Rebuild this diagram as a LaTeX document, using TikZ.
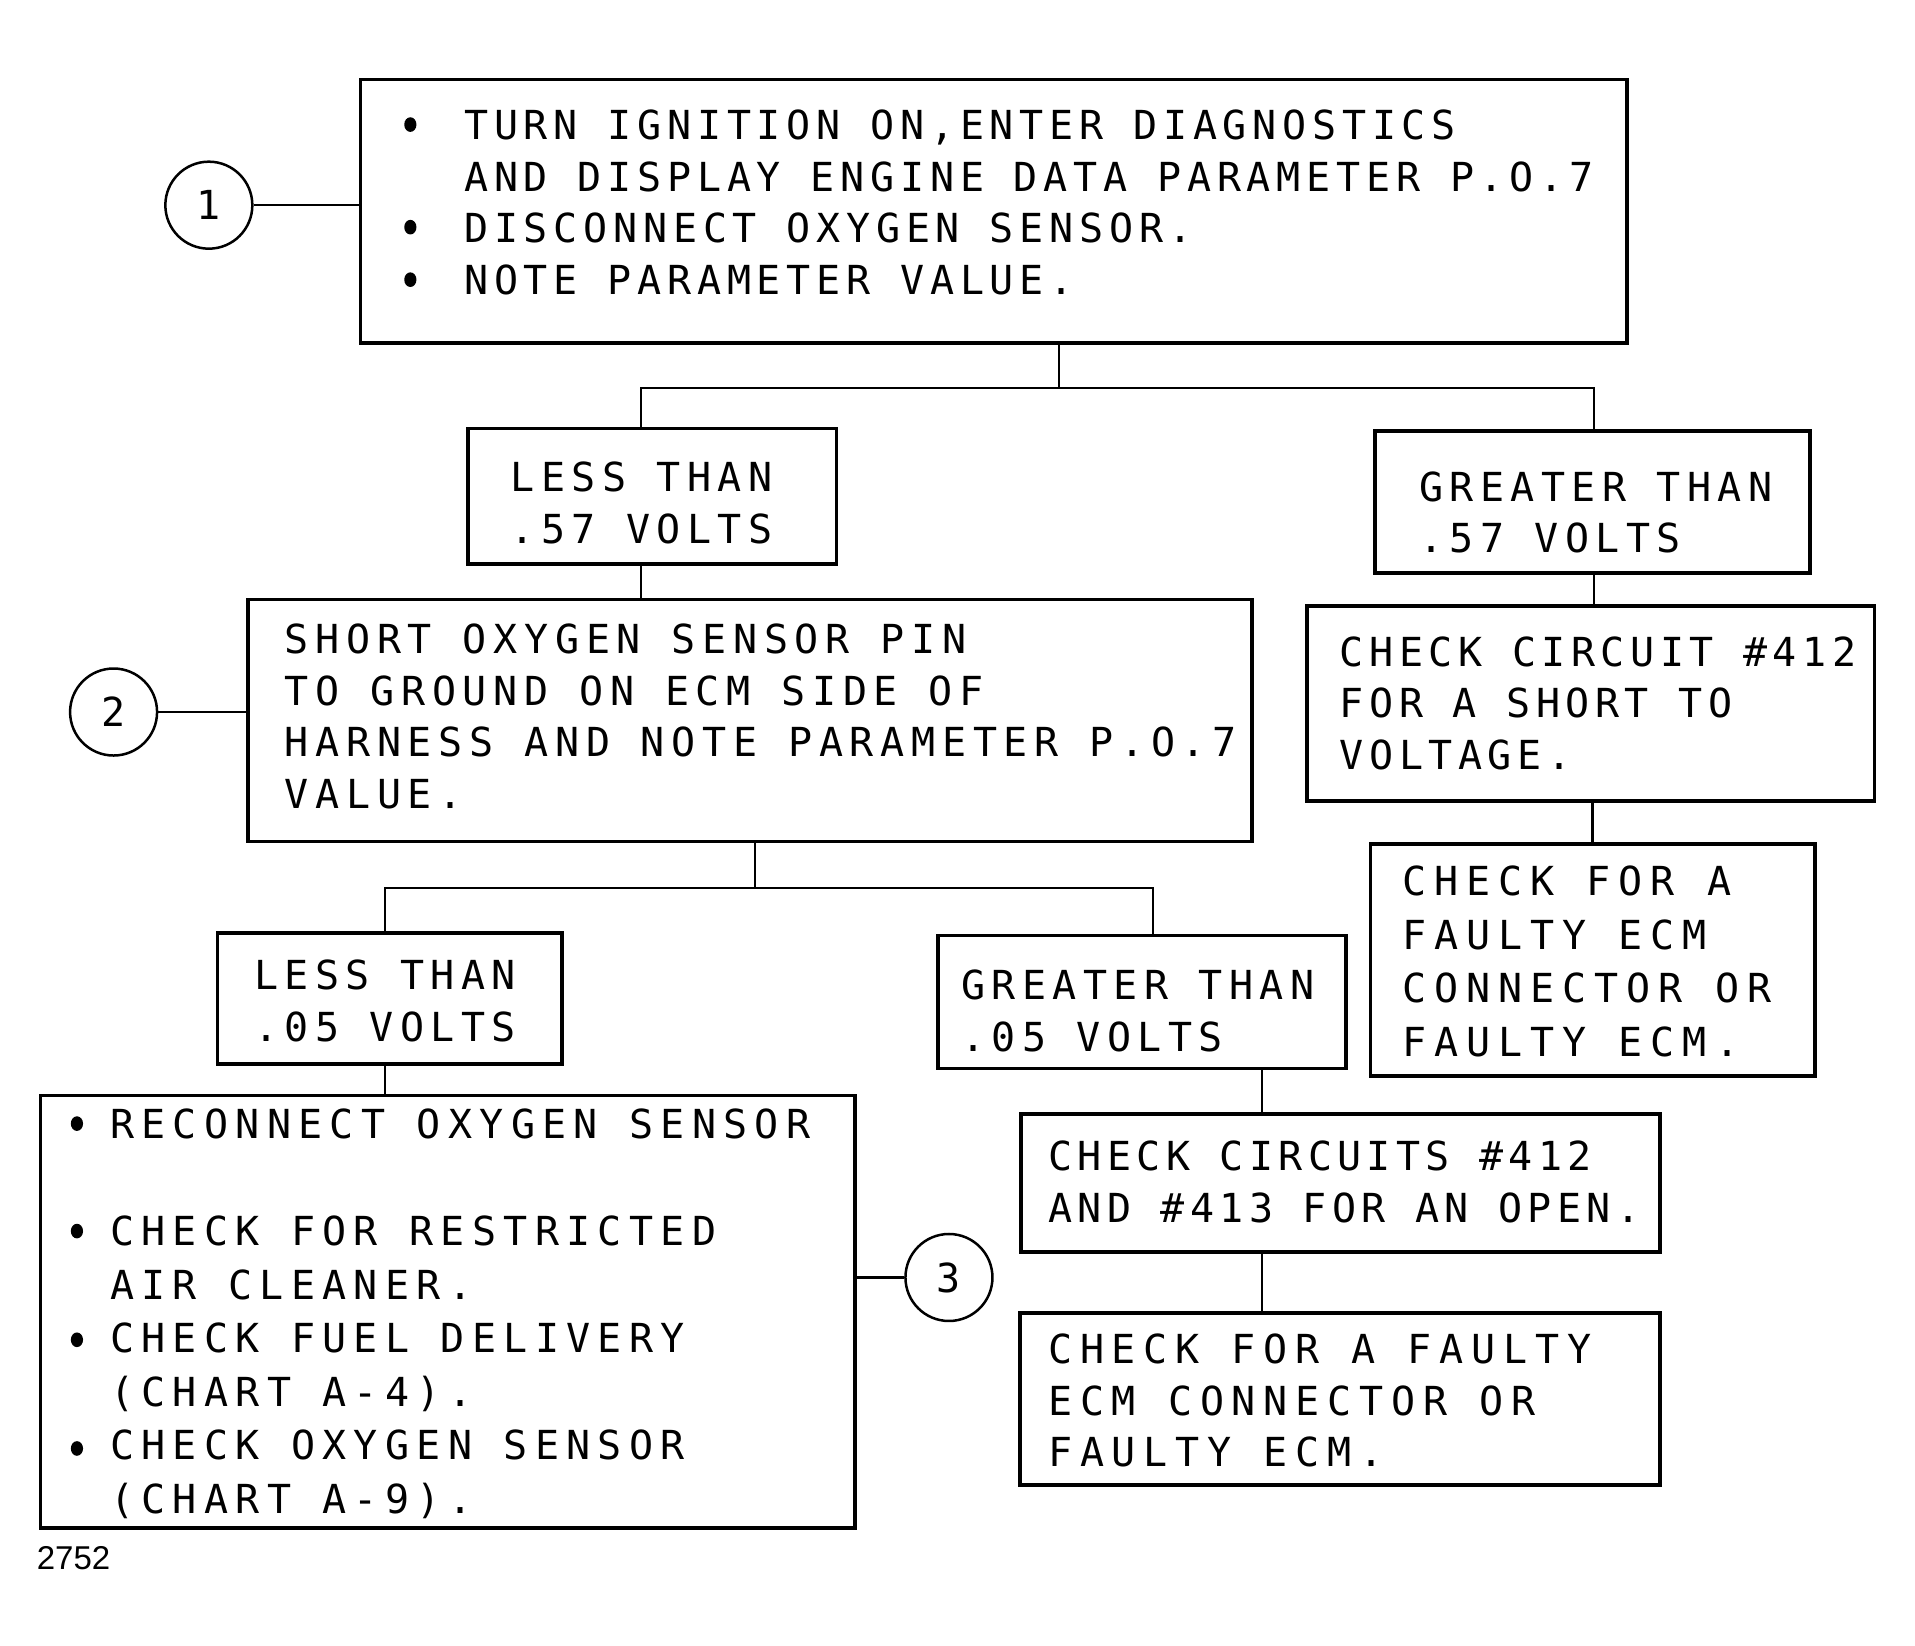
\documentclass[tikz,border=0pt]{standalone}
\usepackage{fontspec}
\usetikzlibrary{fit}
\newfontfamily\plotfont{DejaVu Sans Mono}
\newfontfamily\labelfont{Liberation Sans}
\tikzset{
  box/.style={draw, line width=3.5pt, inner sep=0pt, rectangle},
  txt/.style={inner sep=0pt, anchor=north west, align=left,
    font={\plotfont\fontsize{40}{51.5}\selectfont\addfontfeature{LetterSpace=#1}}},
  txt/.default=14.4,
  txtb/.style={inner sep=0pt, anchor=north west, align=left,
    font={\plotfont\fontsize{40}{53.5}\selectfont\addfontfeature{LetterSpace=#1}}},
  txtb/.default=18,
  num/.style={draw, circle, line width=2.5pt, minimum size=87pt, inner sep=0pt,
    font={\plotfont\fontsize{40}{48}\selectfont}},
  conn/.style={line width=2.2pt},
  bul/.style={fill=black}
}
\begin{document}
\begin{tikzpicture}[x=1.2213pt, y=-1.2213pt]
\useasboundingbox (0,0) rectangle (1568,1347);

% boxes
\node[box, fit={(295,65) (1332,281)}] (b1) {};
\node[box, fit={(383,351) (685,462)}] (lt57) {};
\node[box, fit={(1126,353) (1482,469)}] (gt57) {};
\node[box, fit={(203,491) (1025,689)}] (b2) {};
\node[box, fit={(1070,496) (1535,656)}] (c412) {};
\node[box, fit={(1122,691) (1486,881)}] (fr) {};
\node[box, fit={(178,764) (460,871)}] (lt05) {};
\node[box, fit={(768,766) (1102,875)}] (gt05) {};
\node[box, fit={(33,897) (700,1251)}] (b3) {};
\node[box, fit={(836,912) (1359,1025)}] (cc) {};
\node[box, fit={(835,1075) (1359,1216)}] (fb) {};

% circles
\node[num] (c1) at (171,168) {1};
\node[num] (c2) at (93,583) {2};
\node[num] (c3) at (777,1046) {3};

% texts
\node[txt=14.4] (t1) at (380,90) {TURN IGNITION ON,ENTER DIAGNOSTICS\\AND DISPLAY ENGINE DATA PARAMETER P.O.7\\DISCONNECT OXYGEN SENSOR.\\NOTE PARAMETER VALUE.};
\node[txt=16] (tlt57) at (418,378) {LESS THAN\\.57 VOLTS};
\node[txt=16] (tgt57) at (1162,386) {GREATER THAN\\.57 VOLTS};
\node[txt=16.8] (t2) at (233,511) {SHORT OXYGEN SENSOR PIN\\TO GROUND ON ECM SIDE OF\\HARNESS AND NOTE PARAMETER P.O.7\\VALUE.};
\node[txt=13.8] (t412) at (1097,521) {CHECK CIRCUIT \#412\\FOR A SHORT TO\\VOLTAGE.};
\node[txtb=20] (tfr) at (1148,709) {CHECK FOR A\\FAULTY ECM\\CONNECTOR OR\\FAULTY ECM.};
\node[txt=16] (tlt05) at (208,786) {LESS THAN\\.05 VOLTS};
\node[txt=16] (tgt05) at (787,794) {GREATER THAN\\.05 VOLTS};
\node[txtb=18.3] (t3) at (90,908) {RECONNECT OXYGEN SENSOR\\[53.5pt]CHECK FOR RESTRICTED\\AIR CLEANER.\\CHECK FUEL DELIVERY\\(CHART A-4).\\CHECK OXYGEN SENSOR\\(CHART A-9).};
\node[txt=13.5] (tcc) at (858,934) {CHECK CIRCUITS \#412\\AND \#413 FOR AN OPEN.};
\node[txt=19.7] (tfb) at (858,1092) {CHECK FOR A FAULTY\\ECM CONNECTOR OR\\FAULTY ECM.};
\node[inner sep=0pt, anchor=west, font={\labelfont\fontsize{33}{38}\selectfont}] (fig) at (30,1276) {2752};

% bullets
\foreach \yy in {102,186,229} \fill[bul] (336,\yy) ellipse (5 and 6);
\foreach \yy in {920,1008,1097,1186} \fill[bul] (63,\yy) ellipse (5 and 6);

% junction coordinates
\coordinate (j1) at (867,318);
\coordinate (j1l) at (525,318);
\coordinate (j1r) at (1305,318);
\coordinate (j2) at (618,727);
\coordinate (j2l) at (315,727);
\coordinate (j2r) at (944,727);
\coordinate (j3) at (1033,900);

% connectors
\draw[conn] (c1.east) -- (c1.east -| b1.west);
\draw[conn] (c2.east) -- (c2.east -| b2.west);
\draw[conn] (c3.west) -- (c3.west -| b3.east);

\draw[conn] (b1.south -| j1) -- (j1);
\draw[conn] (lt57.north -| j1l) -- (j1l) -- (j1r) -- (gt57.north -| j1r);
\draw[conn] (lt57.south -| j1l) -- (b2.north -| j1l);
\draw[conn] (gt57.south -| j1r) -- (c412.north -| j1r);
\draw[conn] (c412.south -| fr.north) -- (fr.north);

\draw[conn] (b2.south -| j2) -- (j2);
\draw[conn] (lt05.north -| j2l) -- (j2l) -- (j2r) -- (gt05.north -| j2r);
\draw[conn] (lt05.south -| j2l) -- (b3.north -| j2l);
\draw[conn] (gt05.south -| j3) -- (cc.north -| j3);
\draw[conn] (cc.south -| j3) -- (fb.north -| j3);
\end{tikzpicture}
\end{document}
